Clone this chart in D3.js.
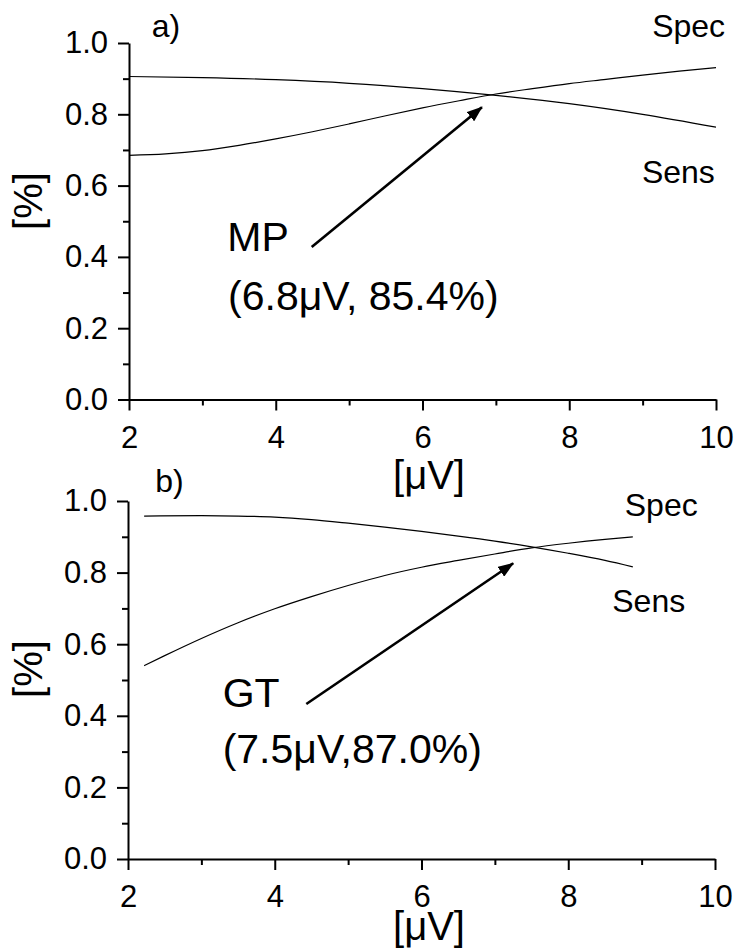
<!DOCTYPE html>
<html>
<head>
<meta charset="utf-8">
<script src="https://cdn.jsdelivr.net/npm/d3@7"></script>
<style>
	html, body { margin: 0; padding: 0; background: #fff; }
	svg text { font-family: "Liberation Sans", Arial, sans-serif; fill: #000; }
</style>
</head>
<body>
<div id="chart"></div>
<script>
// DATA
const xTicks = [2, 4, 6, 8, 10];
const xMinor = [3, 5, 7, 9];
const yTicks = [0, 0.2, 0.4, 0.6, 0.8, 1.0];
const yMinor = [0.1, 0.3, 0.5, 0.7, 0.9];

// panel a) MP
const specA_x = [2, 2.5, 3, 3.5, 4, 4.5, 5, 5.5, 6, 6.5, 7, 7.5, 8, 8.5, 9, 9.5, 10];
const specA_y = [0.685, 0.689, 0.698, 0.713, 0.731, 0.751, 0.773, 0.796, 0.818, 0.838, 0.857, 0.872, 0.886, 0.898, 0.91, 0.921, 0.931];
const sensA_x = [2, 3, 4, 5, 6, 7, 8, 9, 10];
const sensA_y = [0.906, 0.903, 0.897, 0.887, 0.872, 0.853, 0.83, 0.8, 0.764];

// panel b) GT
const specB_x = [2.22, 2.5, 3, 3.5, 4, 4.5, 5, 5.5, 6, 6.5, 7, 7.5, 8, 8.5, 8.88];
const specB_y = [0.54, 0.568, 0.616, 0.66, 0.699, 0.733, 0.764, 0.792, 0.815, 0.834, 0.852, 0.869, 0.882, 0.893, 0.9];
const sensB_x = [2.22, 3, 3.5, 4, 4.5, 5, 5.5, 6, 6.5, 7, 7.5, 8, 8.5, 8.88];
const sensB_y = [0.958, 0.959, 0.958, 0.955, 0.948, 0.938, 0.927, 0.915, 0.902, 0.888, 0.872, 0.854, 0.834, 0.816];

const pointsA = ["MP", "(6.8\u03bcV, 85.4%)"];
const pointsB = ["GT", "(7.5\u03bcV,87.0%)"];

const svg = d3.select("#chart")
	.append("svg")
	.attr("width", 737)
	.attr("height", 948);

svg.append("defs").append("marker")
	.attr("id", "head")
	.attr("markerUnits", "userSpaceOnUse")
	.attr("viewBox", "0 0 16 12")
	.attr("refX", 15)
	.attr("refY", 6)
	.attr("markerWidth", 16)
	.attr("markerHeight", 12)
	.attr("orient", "auto")
	.append("path")
	.attr("d", "M0,0 L16,6 L0,12 Z")
	.attr("fill", "#000");

function drawPanel(p) {
	const x = d3.scaleLinear().domain([2, 10]).range([p.left, p.right]);
	const y = d3.scaleLinear().domain([0, 1]).range([p.bottom, p.top]);

	const g = svg.append("g");

	// curves
	const line = d3.line()
		.x(d => x(d[0]))
		.y(d => y(d[1]))
		.curve(d3.curveMonotoneX);

	p.series.forEach(s => {
		g.append("path")
			.datum(d3.zip(s[0], s[1]))
			.attr("d", line)
			.attr("fill", "none")
			.attr("stroke", "#000")
			.attr("stroke-width", 1.2);
	});

	// axes
	const xAxis = g.append("g")
		.attr("transform", `translate(0, ${p.bottom})`)
		.call(d3.axisBottom(x).tickValues(xTicks).tickSize(11).tickSizeOuter(0).tickPadding(15));
	g.append("g")
		.attr("transform", `translate(0, ${p.bottom})`)
		.call(d3.axisBottom(x).tickValues(xMinor).tickSize(6).tickFormat(""))
		.select(".domain").remove();

	const yAxis = g.append("g")
		.attr("transform", `translate(${p.left}, 0)`)
		.call(d3.axisLeft(y).tickValues(yTicks).tickSize(11).tickSizeOuter(0).tickPadding(10).tickFormat(d3.format(".1f")));
	g.append("g")
		.attr("transform", `translate(${p.left}, 0)`)
		.call(d3.axisLeft(y).tickValues(yMinor).tickSize(6).tickFormat(""))
		.select(".domain").remove();

	g.selectAll(".domain, .tick line").attr("stroke", "#000").attr("stroke-width", 2);
	[xAxis, yAxis].forEach(a => a.selectAll("text")
		.style("font-family", "'Liberation Sans', Arial, sans-serif")
		.style("font-size", "31px")
		.attr("fill", "#000"));

	// axis titles
	g.append("text")
		.attr("x", 429)
		.attr("y", p.xTitleY)
		.attr("text-anchor", "middle")
		.style("font-size", "40px")
		.text("[\u03bcV]");

	g.append("text")
		.attr("transform", `translate(42, ${p.yTitleY}) rotate(-90)`)
		.attr("text-anchor", "middle")
		.style("font-size", "40px")
		.text("[%]");

	// labels
	g.append("text")
		.attr("x", x(p.tag[0])).attr("y", y(p.tag[1]))
		.style("font-size", "32px")
		.text(p.tagText);
	g.append("text")
		.attr("x", x(p.spec[0])).attr("y", y(p.spec[1]))
		.style("font-size", "32px")
		.text("Spec");
	g.append("text")
		.attr("x", x(p.sens[0])).attr("y", y(p.sens[1]))
		.style("font-size", "32px")
		.text("Sens");

	// annotation
	g.append("line")
		.attr("x1", x(p.arrow[0])).attr("y1", y(p.arrow[1]))
		.attr("x2", x(p.arrow[2])).attr("y2", y(p.arrow[3]))
		.attr("stroke", "#000")
		.attr("stroke-width", 2.6)
		.attr("marker-end", "url(#head)");

	g.append("text")
		.attr("x", x(p.name[0])).attr("y", y(p.name[1]))
		.style("font-size", "41px")
		.text(p.texts[0]);
	g.append("text")
		.attr("x", x(p.value[0])).attr("y", y(p.value[1]))
		.style("font-size", "41px")
		.text(p.texts[1]);
}

drawPanel({
	left: 129, right: 716, top: 43, bottom: 399.5,
	xTitleY: 489, yTitleY: 201,
	series: [[specA_x, specA_y], [sensA_x, sensA_y]],
	tag: [2.31, 1.017], tagText: "a)",
	spec: [9.13, 1.017], sens: [8.99, 0.607],
	arrow: [4.49, 0.428, 6.81, 0.82],
	name: [3.34, 0.417], value: [3.35, 0.251],
	texts: pointsA
});

drawPanel({
	left: 128, right: 715, top: 501, bottom: 859,
	xTitleY: 940, yTitleY: 669,
	series: [[specB_x, specB_y], [sensB_x, sensB_y]],
	tag: [2.37, 1.025], tagText: "b)",
	spec: [8.77, 0.958], sens: [8.6, 0.691],
	arrow: [4.43, 0.433, 7.25, 0.826],
	name: [3.29, 0.425], value: [3.29, 0.269],
	texts: pointsB
});
</script>
</body>
</html>
